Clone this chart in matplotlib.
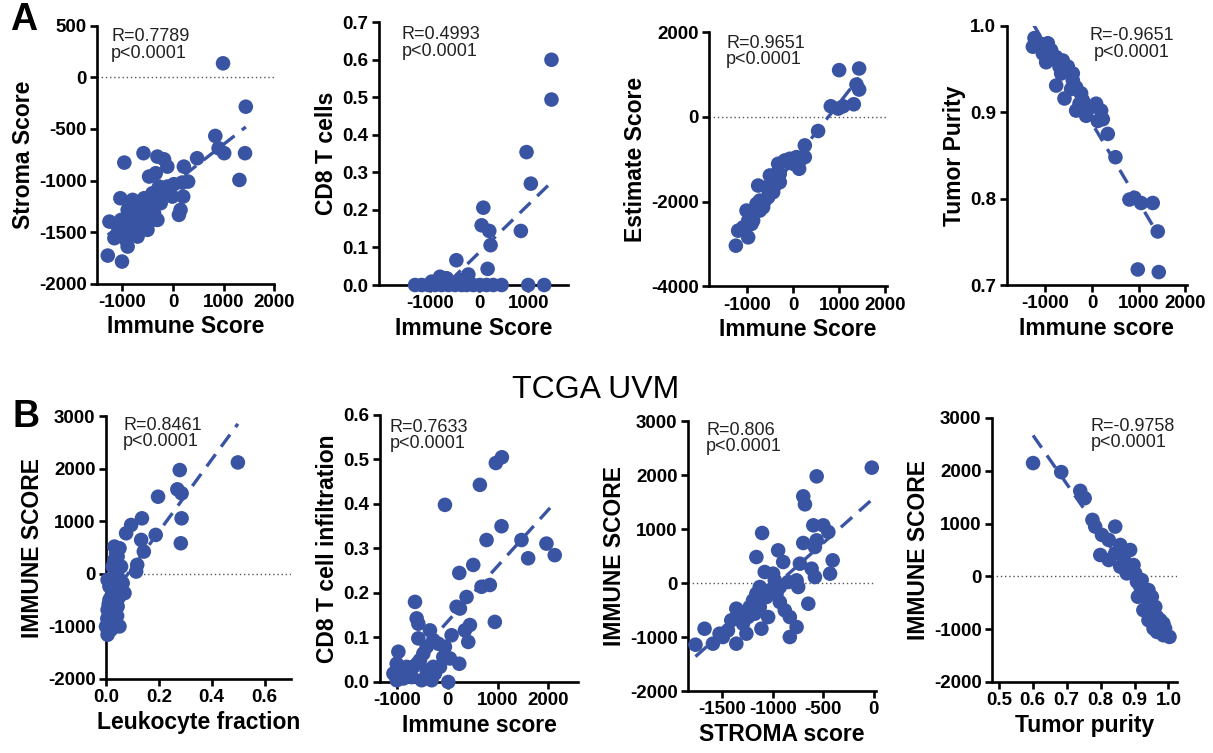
import numpy as np
import matplotlib
matplotlib.use("Agg")
import matplotlib.pyplot as plt

plt.rcParams["font.family"] = ["Liberation Sans", "DejaVu Sans"]

DOT = "#3A54A4"

# -------------------------
# Panel A1: Stroma vs Immune score
# -------------------------
a1_x = [990, 1440, 1425, 1314, 837, 1013, 902, 477, 216, 300, 183, 20, -13, 203, 150, 118,
        -111, -176, -307, -582, -961, -1039, -1255, -1288, -1007, -1157, -895, -340, -471,
        -275, -405, -242, -373, -569, -503, -667, -797, -634, -765, -863, -961, -993, -1092,
        -732, -830, -699, -928, -569, -405, -307, -405, -634, -732, -895, -1026, -797, -242, -111]
a1_y = [135, -285, -735, -994, -568, -735, -687, -784, -865, -1010, -1019, -1035, -1155, -1155,
        -1284, -1332, -865, -794, -768, -735, -826, -1171, -1397, -1726, -1784, -1558, -1639,
        -929, -961, -1058, -1123, -1219, -1316, -1316, -1477, -1477, -1477, -1252, -1219, -1316,
        -1381, -1510, -1445, -1381, -1413, -1542, -1574, -1171, -1219, -1381, -1381, -1381,
        -1300, -1284, -1381, -1187, -1123, -1058]

# -------------------------
# Panel A2: CD8 T cells vs Immune score
# -------------------------
a2_x = [1476, 1476, 966, 1054, 850, 1000, 1327, 82, 48, 204, 231, 170, -469, -224, -803, -667,
        -973, -395, -1313, -1177, -1041, -905, -769, -633, -497, -361, -259, -122, 14, 150,
        286, 456]
a2_y = [0.600, 0.494, 0.354, 0.270, 0.144, 0.0, 0.0, 0.206, 0.159, 0.144, 0.106, 0.043, 0.066,
        0.028, 0.022, 0.018, 0.009, 0.013, 0.0, 0.0, 0.0, 0.0, 0.0, 0.0, 0.0, 0.0, 0.0, 0.0,
        0.0, 0.0, 0.0, 0.0]

# -------------------------
# Panel A3: Estimate vs Immune score
# -------------------------
a3_x = [1435, 1000, 1435, 1377, 1319, 819, 978, 1087, 543, 254, 145, 130, 254, -72, -181, -326,
        -290, -507, -580, -399, -761, -725, -797, -906, -1014, -978, -1196, -978, -1246, -616,
        -543, -435, -652, -870, -797, -290, -362, 0, 72, -109, -507, -906, -1087, -725]
a3_y = [1146, 1107, 648, 767, 300, 253, 198, 253, -332, -672, -1028, -1225, -949, -988, -1028,
        -1107, -1344, -1383, -1660, -1621, -1621, -1976, -2213, -2292, -2213, -2451, -2688,
        -2846, -3043, -1976, -1897, -1779, -2134, -2451, -2055, -1542, -1344, -1107, -949,
        -1067, -1739, -2530, -2609, -2213]

# -------------------------
# Panel A4: Tumor purity vs Immune score
# -------------------------
a4_x = [-1236, -1271, -950, -1057, -986, -771, -629, -521, -771, -593, -414, -343, -236, -343,
        -129, 86, 193, 121, 336, 500, 800, 907, 1050, 1300, 1407, 979, 1429, -1129, -879,
        -700, -557, -414, -200, -21, -129, 229, -271, -450, -664, -843, -1021]
a4_y = [0.986, 0.976, 0.980, 0.968, 0.958, 0.964, 0.960, 0.953, 0.931, 0.916, 0.937, 0.929,
        0.922, 0.902, 0.896, 0.910, 0.902, 0.890, 0.875, 0.848, 0.799, 0.801, 0.795, 0.795,
        0.762, 0.718, 0.715, 0.980, 0.972, 0.953, 0.947, 0.945, 0.914, 0.906, 0.906, 0.892,
        0.910, 0.927, 0.945, 0.962, 0.972]

# -------------------------
# Panel B1: Immune score vs Leukocyte fraction
# -------------------------
b1_x = [0.499, 0.279, 0.270, 0.286, 0.286, 0.283, 0.197, 0.188, 0.136, 0.133, 0.143, 0.118,
        0.114, 0.095, 0.076, 0.051, 0.038, 0.032, 0.057, 0.025, 0.044, 0.025, 0.063, 0.070,
        0.038, 0.013, 0.044, 0.006, 0.025, 0.051, 0.006, 0.019, 0.0, 0.032, 0.013, 0.025,
        0.006, 0.038, 0.032, 0.044, 0.008, 0.012, 0.018, 0.022, 0.015, 0.028, 0.010, 0.035,
        0.020, 0.030, 0.016, 0.042, 0.048, 0.027, 0.005]
b1_y = [2120, 1975, 1608, 1532, 1057, 582, 1468, 741, 1057, 646, 424, 171, 44, 930, 772, 487,
        392, 266, 139, 139, -51, -114, -177, -367, -335, -494, -620, -684, -810, -1000, -1158,
        -1063, -1000, -905, -240, -367, -114, 139, 519, 329, -1100, -950, -880, -760, -700,
        -640, -580, -560, -430, -300, -220, -800, -450, -1020, -850]

# -------------------------
# Panel B2: CD8 T cell infiltration vs Immune score
# -------------------------
b2_x = [960, 1080, 642, -53, 1073, 775, 1470, 1967, 2132, 1603, 510, 232, 675, 841, 377, 179,
        245, 940, 444, 344, 411, 79, -649, -616, -583, -583, -351, -285, -417, -185, -53, -86,
        46, 232, -980, -1013, -1079, -947, -815, -682, -550, -483, -715, -1013, -318, 13,
        -881, -781, -417, -285, -152, -517, -252]
b2_y = [0.492, 0.505, 0.443, 0.398, 0.350, 0.319, 0.319, 0.311, 0.285, 0.278, 0.263, 0.245,
        0.214, 0.218, 0.191, 0.169, 0.165, 0.135, 0.128, 0.116, 0.090, 0.105, 0.180, 0.143,
        0.131, 0.098, 0.116, 0.094, 0.079, 0.086, 0.079, 0.056, 0.053, 0.041, 0.068, 0.041,
        0.019, 0.019, 0.034, 0.034, 0.049, 0.064, 0.011, 0.004, 0.004, 0.000, 0.008, 0.023,
        0.026, 0.034, 0.034, 0.004, 0.019]

# -------------------------
# Panel B3: Immune score vs STROMA score
# -------------------------
b3_x = [-17, -564, -697, -680, -597, -498, -448, -564, -581, -697, -1105, -946, -1162, -896,
        -730, -614, -581, -405, -431, -1079, -996, -979, -846, -763, -747, -647, -1029, -1162,
        -1195, -1128, -1045, -929, -880, -830, -763, -830, -1112, -1245, -1295, -1361, -1411,
        -1444, -1361, -1527, -1593, -1676, -1766, -1261, -1228, -962, -929, -1128, -1062,
        -1311, -1494, -1178]
b3_y = [2136, 1975, 1605, 1457, 1068, 1068, 944, 790, 667, 741, 926, 605, 481, 389, 358, 265,
        111, 420, 173, 204, 173, 49, 19, 49, -74, -383, -136, -198, -321, -444, -630, -352,
        -506, -630, -815, -1000, -846, -630, -753, -475, -691, -877, -1123, -938, -1123, -846,
        -1142, -938, -444, -198, -74, -74, -259, -599, -1000, -568]

# -------------------------
# Panel B4: Immune score vs Tumor purity
# -------------------------
b4_x = [0.601, 0.684, 0.740, 0.753, 0.776, 0.784, 0.843, 0.804, 0.824, 0.858, 0.887, 0.799,
        0.824, 0.897, 0.858, 0.877, 0.907, 0.931, 0.910, 0.946, 0.956, 0.941, 0.985, 0.966,
        0.985, 1.003, 0.956, 0.926, 0.966, 0.917, 0.936, 0.902, 0.887, 0.868, 0.843, 0.921,
        0.951, 0.976, 0.990, 0.951, 0.941, 0.961]
b4_y = [2146, 1975, 1620, 1481, 1070, 943, 943, 785, 690, 595, 500, 405, 310, 215, 184, 57,
        -101, -323, -386, -513, -703, -829, -892, -1051, -1114, -1146, -987, -639, -766, -196,
        -418, 57, 120, 373, 437, -70, -639, -829, -987, -386, -259, -576]

panels = [
    # data, axes rect, xlim, ylim, xticks, yticks, xlabel, ylabel, stat text, text pos, align
    (a1_x, a1_y, [0.080, 0.623, 0.146, 0.343], (-1500, 2000), (-2000, 500),
     [-1000, 0, 1000, 2000], [-2000, -1500, -1000, -500, 0, 500],
     "Immune Score", "Stroma Score", "R=0.7789\np<0.0001", (0.079, 0.99), "left"),
    (a2_x, a2_y, [0.3125, 0.6215, 0.156, 0.349], (-2050, 1820), (0, 0.7),
     [-1000, 0, 1000], [0, 0.1, 0.2, 0.3, 0.4, 0.5, 0.6, 0.7],
     "Immune Score", "CD8 T cells", "R=0.4993\np<0.0001", (0.12, 0.985), "left"),
    (a3_x, a3_y, [0.5845, 0.620, 0.1467, 0.337], (-1830, 2040), (-4000, 2000),
     [-1000, 0, 1000, 2000], [-4000, -2000, 0, 2000],
     "Immune Score", "Estimate Score", "R=0.9651\np<0.0001", (0.096, 0.99), "left"),
    (a4_x, a4_y, [0.830, 0.6215, 0.1484, 0.344], (-1830, 2030), (0.7, 1.0),
     [-1000, 0, 1000, 2000], [0.7, 0.8, 0.9, 1.0],
     "Immune score", "Tumor Purity", "R=-0.9651\np<0.0001", (0.694, 0.995), "center"),
    (b1_x, b1_y, [0.0874, 0.0983, 0.1525, 0.349], (0, 0.70), (-2000, 3000),
     [0.0, 0.2, 0.4, 0.6], [-2000, -1000, 0, 1000, 2000, 3000],
     "Leukocyte fraction", "IMMUNE SCORE", "R=0.8461\np<0.0001", (0.092, 0.998), "left"),
    (b2_x, b2_y, [0.3133, 0.0943, 0.1632, 0.3546], (-1345, 2595), (0, 0.6),
     [-1000, 0, 1000, 2000], [0, 0.1, 0.2, 0.3, 0.4, 0.5, 0.6],
     "Immune score", "CD8 T cell infiltration", "R=0.7633\np<0.0001", (0.05, 0.985), "left"),
    (b3_x, b3_y, [0.5672, 0.0823, 0.155, 0.3586], (-1840, 25), (-2000, 3000),
     [-1500, -1000, -500, 0], [-2000, -1000, 0, 1000, 2000, 3000],
     "STROMA score", "IMMUNE SCORE", "R=0.806\np<0.0001", (0.096, 0.998), "left"),
    (b4_x, b4_y, [0.8178, 0.0943, 0.1525, 0.3506], (0.48, 1.025), (-2000, 3000),
     [0.5, 0.6, 0.7, 0.8, 0.9, 1.0], [-2000, -1000, 0, 1000, 2000, 3000],
     "Tumor purity", "IMMUNE SCORE", "R=-0.9758\np<0.0001", (0.535, 1.0), "left"),
]


def tick_labels(ticks):
    # integer axes print plain ints, fractional axes keep one decimal
    if all(float(v).is_integer() for v in ticks) and max(abs(v) for v in ticks) > 1:
        return [f"{int(v)}" for v in ticks]
    return [f"{v:.1f}" for v in ticks]


def main():
    fig = plt.figure(figsize=(12.13, 7.53), dpi=100)

    for (xs, ys, rect, xlim, ylim, xticks, yticks, xlabel, ylabel,
         stat, tpos, align) in panels:
        ax = fig.add_axes(rect)
        xs = np.array(xs, dtype=float)
        ys = np.array(ys, dtype=float)

        ax.axhline(0, color="#555555", lw=1.0, ls=(0, (1, 2)), zorder=1)

        slope, intercept = np.polyfit(xs, ys, 1)
        fx = np.array([xs.min(), xs.max()])
        ax.plot(fx, slope * fx + intercept, color=DOT, lw=2.4,
                dashes=(4.5, 2.8), zorder=2, solid_capstyle="butt")

        ax.scatter(xs, ys, s=110, color=DOT, edgecolors="none", zorder=3, clip_on=False)

        ax.set_xlim(*xlim)
        ax.set_ylim(*ylim)
        ax.set_xticks(xticks)
        ax.set_yticks(yticks)
        ax.set_xticklabels(tick_labels(xticks))
        ax.set_yticklabels(tick_labels(yticks))

        for side in ("top", "right"):
            ax.spines[side].set_visible(False)
        for side in ("left", "bottom"):
            ax.spines[side].set_linewidth(1.9)
        ax.tick_params(width=1.9, length=5, labelsize=13.5, pad=2.5)
        for lab in ax.get_xticklabels() + ax.get_yticklabels():
            lab.set_fontweight("bold")

        ax.set_xlabel(xlabel, fontsize=16.5, fontweight="bold", labelpad=3)
        ax.set_ylabel(ylabel, fontsize=16.5, fontweight="bold", labelpad=3)

        ax.text(tpos[0], tpos[1], stat, transform=ax.transAxes, ha=align,
                va="top", fontsize=13, color="#222222", linespacing=0.95,
                multialignment="center" if align == "center" else "left")

    fig.text(0.008, 0.998, "A", fontsize=27, fontweight="bold", va="top")
    fig.text(0.010, 0.470, "B", fontsize=27, fontweight="bold", va="top")
    fig.text(0.491, 0.4714, "TCGA UVM", fontsize=23, ha="center", va="baseline")

    fig.savefig("out.png", dpi=100, facecolor="white")
    plt.close(fig)


if __name__ == "__main__":
    main()
